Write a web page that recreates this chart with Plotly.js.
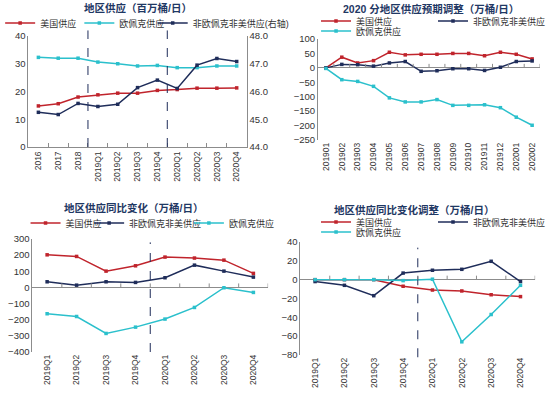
<!DOCTYPE html>
<html>
<head>
<meta charset="utf-8">
<script src="https://cdn.plot.ly/plotly-3.0.1.min.js"></script>
<style>html,body{margin:0;padding:0;background:#fff;}#chart{width:550px;height:399px;}</style>
</head>
<body>
<div id="chart"></div>
<script>
// ---- Chart 1: 地区供应（百万桶/日）
var cats1 = ["2016","2017","2018","2019Q1","2019Q2","2019Q3","2019Q4","2020Q1","2020Q2","2020Q3","2020Q4"];
var us1 = [14.8, 15.6, 18.0, 18.8, 19.4, 19.4, 20.4, 20.7, 21.2, 21.2, 21.3];
var opec1 = [32.3, 32.0, 32.0, 30.6, 30.0, 29.2, 29.4, 28.6, 28.6, 29.2, 29.2];
var nonOpec1 = [45.25, 45.17, 45.57, 45.46, 45.54, 46.14, 46.41, 46.11, 46.95, 47.19, 47.08];

// ---- Chart 2: 2020 分地区供应预期调整（万桶/日）
var cats2 = ["201901","201902","201903","201904","201905","201906","201907","201908","201909","201910","201911","201912","202001","202002"];
var us2 = [0, 37, 17, 25, 54, 45, 47, 47, 50, 50, 42, 54, 47, 31];
var nonOpec2 = [0, 12, 11, 6, 17, 22, -12, -10, -3, -3, -9, 2, 22, 24];
var opec2 = [-2, -41, -47, -64, -104, -118, -118, -110, -130, -130, -128, -138, -171, -199];

// ---- Chart 3: 地区供应同比变化（万桶/日）
var cats3 = ["2019Q1","2019Q2","2019Q3","2019Q4","2020Q1","2020Q2","2020Q3","2020Q4"];
var us3 = [202, 192, 101, 134, 188, 182, 169, 87];
var nonOpec3 = [35, 14, 35, 31, 60, 138, 101, 64];
var opec3 = [-163, -180, -285, -246, -196, -124, -2, -31];

// ---- Chart 4: 地区供应同比变化调整（万桶/日）
var cats4 = ["2019Q1","2019Q2","2019Q3","2019Q4","2020Q1","2020Q2","2020Q3","2020Q4"];
var us4 = [0, 0, 0, -7, -11, -12, -16, -18];
var nonOpec4 = [-2, -6, -17, 7, 10, 11, 19.5, -2];
var opec4 = [0, 0, 0, -1, 0.5, -66, -37, -6];

var names = {us: "美国供应", opec: "欧佩克供应", non: "非欧佩克非美供应", nonR: "非欧佩克非美供应(右轴)"};
var titles = ["地区供应（百万桶/日）", "2020 分地区供应预期调整（万桶/日）", "地区供应同比变化（万桶/日）", "地区供应同比变化调整（万桶/日）"];

var RED = "#C0242C", NAVY = "#1F2D5A", CYAN = "#2BC0CC";
var FONT = 'Arial, "Liberation Sans", "Noto Sans CJK SC", sans-serif';
var TXT = "#333333", AX = "#8C8C8C", TITLEC = "#1F3864";

function tr(x, y, name, color, xa, ya, legend) {
  return {x: x, y: y, name: name, type: "scatter", mode: "lines+markers",
    line: {color: color, width: 1.5}, marker: {color: color, size: 3.5, symbol: "square"},
    xaxis: xa, yaxis: ya, legend: legend, showlegend: true, cliponaxis: false};
}

var data = [
  tr(cats1, us1, names.us, RED, "x", "y", "legend"),
  tr(cats1, opec1, names.opec, CYAN, "x", "y", "legend7"),
  tr(cats1, nonOpec1, names.nonR, NAVY, "x", "y2", "legend8"),

  tr(cats2, us2, names.us, RED, "x2", "y3", "legend2"),
  tr(cats2, nonOpec2, names.non, NAVY, "x2", "y3", "legend2"),
  tr(cats2, opec2, names.opec, CYAN, "x2", "y3", "legend3"),

  tr(cats3, us3, names.us, RED, "x3", "y4", "legend4"),
  tr(cats3, nonOpec3, names.non, NAVY, "x3", "y4", "legend9"),
  tr(cats3, opec3, names.opec, CYAN, "x3", "y4", "legend10"),

  tr(cats4, us4, names.us, RED, "x4", "y5", "legend5"),
  tr(cats4, nonOpec4, names.non, NAVY, "x4", "y5", "legend5"),
  tr(cats4, opec4, names.opec, CYAN, "x4", "y5", "legend6")
];

function px(v){return v/550;}
function py(v){return 1 - v/399;}

function xax(domain, anchor, n, showline) {
  return {domain: domain, anchor: anchor, type: "category", range: [-0.5, n - 0.5],
    showgrid: false, zeroline: false, showline: showline, linecolor: AX, linewidth: 1,
    ticks: showline ? "inside" : "", tickson: "boundaries", ticklen: 4, tickcolor: AX,
    tickangle: -90, tickfont: {size: 8.5, color: TXT, family: FONT}, fixedrange: true};
}
function yax(domain, anchor, range, dtick, fmt) {
  return {domain: domain, anchor: anchor, range: range, dtick: dtick, tickformat: fmt || "",
    showgrid: false, zeroline: true, zerolinecolor: AX, zerolinewidth: 1,
    showline: true, linecolor: AX, linewidth: 1, ticks: "",
    tickfont: {size: 9.5, color: TXT, family: FONT}, fixedrange: true};
}

var layout = {
  width: 550, height: 399,
  margin: {l: 0, r: 0, t: 0, b: 0},
  paper_bgcolor: "#fff", plot_bgcolor: "rgba(0,0,0,0)",
  font: {family: FONT, color: TXT},
  xaxis: xax([px(24), px(247)], "y", cats1.length, true),
  yaxis: Object.assign(yax([py(147), py(36)], "x", [0, 40], 10), {zeroline: false}),
  yaxis2: Object.assign(yax([py(147), py(36)], "x", [44, 48], 1, ".1f"), {overlaying: "y", side: "right", zeroline: false}),
  xaxis2: xax([px(320), px(547)], "y3", cats2.length, false),
  yaxis3: yax([py(140), py(39)], "x2", [-250, 100], 50),
  xaxis3: xax([px(28), px(269)], "y4", cats3.length, false),
  yaxis4: yax([py(352), py(239)], "x3", [-400, 300], 100),
  xaxis4: xax([px(302), px(542)], "y5", cats4.length, false),
  yaxis5: yax([py(355), py(242)], "x4", [-80, 40], 20),
  annotations: [],
  shapes: []
};

var legBase = {orientation: "h", xanchor: "left", yanchor: "middle", bgcolor: "rgba(0,0,0,0)",
  font: {size: 9, color: TXT, family: FONT}, itemwidth: 30, tracegroupgap: 0};
// target left edge (px) of each legend's first text label, and its row centre
var legendTargets = {
  legend:   [35, 23],  legend7: [103, 23], legend8: [178, 23],
  legend2:  [345, 21], legend3: [345, 31],
  legend4:  [48, 223], legend9: [113, 223], legend10: [215, 223],
  legend5:  [345, 222], legend6: [345, 232]
};
Object.keys(legendTargets).forEach(function(id){
  var t = legendTargets[id];
  var extra = (id === "legend2" || id === "legend5") ? {entrywidth: 72} : {};
  layout[id] = Object.assign({}, legBase, {x: px(t[0] - 27), y: py(t[1])}, extra);
});

var titlePos = [[136, 8], [435, 9], [131, 208], [418, 210]];
titles.forEach(function(t, i){
  layout.annotations.push({text: "<b>" + t + "</b>", xref: "paper", yref: "paper",
    x: px(titlePos[i][0]), y: py(titlePos[i][1]), xanchor: "center", yanchor: "middle",
    showarrow: false, font: {size: 10.5, color: TITLEC, family: FONT}});
});

// dashed separators
function vdash(xa, ya, xv, y0, y1) {
  layout.shapes.push({type: "line", xref: xa, yref: ya + " domain",
    x0: xv, x1: xv, y0: y0, y1: y1, line: {color: NAVY, width: 1, dash: "dash"}});
}
vdash("x", "y", cats1.indexOf("2019Q1") - 0.5, 0, 1.05);
vdash("x", "y", cats1.indexOf("2020Q1") - 0.5, 0, 1.05);
vdash("x3", "y4", cats3.indexOf("2020Q1") - 0.5, 0, 0.97);
vdash("x4", "y5", cats4.indexOf("2020Q1") - 0.5, -0.02, 0.95);

// tick marks on zero lines at category boundaries
function zeroTicks(xa, ya, n) {
  for (var k = 0; k < n; k++) {
    layout.shapes.push({type: "line", xref: xa, yref: ya, x0: k + 0.5, x1: k + 0.5,
      ysizemode: "pixel", yanchor: 0, y0: 0, y1: 4, line: {color: AX, width: 1}});
  }
}
zeroTicks("x2", "y3", cats2.length);
zeroTicks("x3", "y4", cats3.length);
zeroTicks("x4", "y5", cats4.length);

var gd = document.getElementById("chart");
Plotly.newPlot(gd, data, layout, {staticPlot: true, displayModeBar: false}).then(function(){
  // nudge each legend so that its first label starts where the reference puts it
  var root = gd.getBoundingClientRect();
  var upd = {};
  Object.keys(legendTargets).forEach(function(id){
    var g = gd.querySelector("g." + id);
    if (!g) return;
    var txt = g.querySelector("text.legendtext");
    if (!txt) return;
    var left = txt.getBoundingClientRect().left - root.left;
    var delta = legendTargets[id][0] - left;
    if (Math.abs(delta) > 0.5) upd[id + ".x"] = layout[id].x + delta / 550;
  });
  if (Object.keys(upd).length) return Plotly.relayout(gd, upd);
});
</script>
</body>
</html>
